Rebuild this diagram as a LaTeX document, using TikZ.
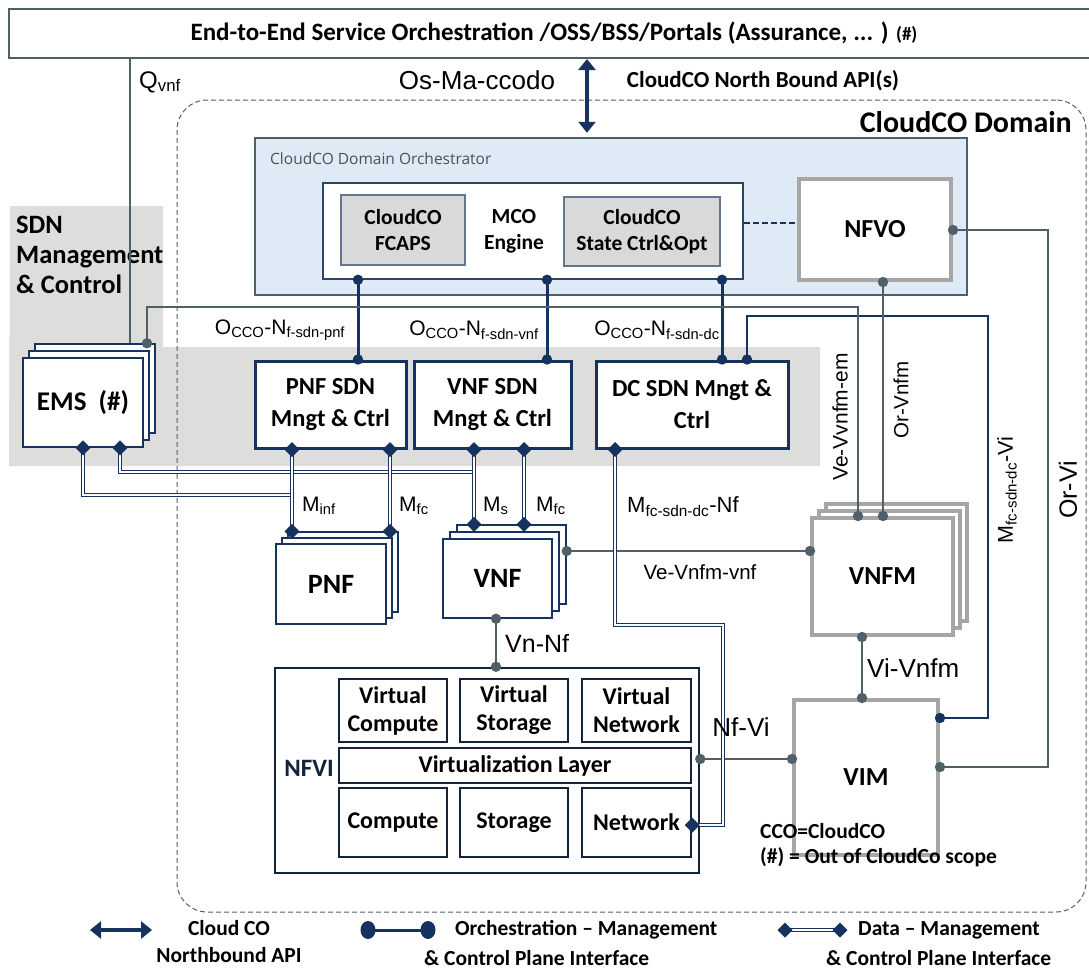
\documentclass[tikz,border=0pt]{standalone}
\usepackage{fontspec}
\setmainfont{Carlito}
\newfontfamily\arialf{Liberation Sans}
\newfontfamily\opensf{Open Sans}
\usetikzlibrary{arrows.meta}
\definecolor{slate}{RGB}{80,96,104}
\definecolor{navy}{RGB}{22,50,95}
\definecolor{boxgray}{RGB}{166,166,166}
\definecolor{bandgray}{RGB}{221,221,220}
\definecolor{orchblue}{RGB}{222,234,246}
\definecolor{fcapsgray}{RGB}{217,217,217}
\definecolor{nfvinavy}{RGB}{20,35,60}
\definecolor{labgray}{RGB}{80,80,80}
\newcommand\fs[2]{\fontsize{#1}{#2}\selectfont}
% connector end marks
\newcommand\sdot[1]{\fill[slate] (#1) circle (5.2pt);}
\newcommand\ndot[1]{\fill[navy] (#1) circle (5.2pt);}
\newcommand\dmd[1]{\fill[navy] (#1) ++(0,-7.5pt) -- ++(7.5pt,7.5pt) -- ++(-7.5pt,7.5pt) -- ++(-7.5pt,-7.5pt) -- cycle;}
\begin{document}
\begin{tikzpicture}[x=1pt,y=-1pt,
  slateline/.style={draw=slate, line width=2.8pt},
  navyline/.style={draw=navy, line width=3pt},
  thinnavy/.style={draw=navy, line width=1.5pt},
  dataline/.style={draw=navy, double=white, double distance=1.8pt, line width=1.5pt},
  apiarrow/.style={draw=navy, line width=4pt, {Triangle[length=11pt,width=17pt]}-{Triangle[length=11pt,width=17pt]}},
  sdnbox/.style={draw=navy, line width=3pt, fill=white, align=center, inner sep=0pt, font=\bfseries\fs{24.5}{32}},
  nfbox/.style={draw=navy, line width=1.5pt, fill=white, align=center, inner sep=0pt, font=\bfseries\fs{28}{32}},
  graybox/.style={draw=boxgray, line width=4pt, fill=white, align=center, inner sep=0pt, font=\bfseries\fs{26}{30}},
  mcobox/.style={draw=fcapsgray!40!navy, line width=1.5pt, fill=fcapsgray, align=center, inner sep=0pt, font=\bfseries\fs{21.5}{26}},
  nfvibox/.style={draw=nfvinavy, line width=2.5pt, fill=white, align=center, inner sep=0pt, font=\bfseries\fs{24}{28}},
  lab/.style={font=\arialf\fs{21}{24}, inner sep=0pt},
  note/.style={font=\bfseries\fs{21.5}{26}, inner sep=0pt, anchor=west}
]
\useasboundingbox (0,0) rectangle (1089,972);
\fill[white] (0,0) rectangle (1089,972);

% grey SDN management & control area
\fill[bandgray] (10,206) -- (163,206) -- (163,347) -- (820,347) -- (820,466) -- (9,466) -- cycle;
\node[font=\bfseries\fs{26.5}{30}, align=left, anchor=north west, inner sep=0pt] (sdnlab) at (16,216) {SDN\\Management\\\& Control};

% CloudCO domain boundary
\node[draw=slate, dashed, dash pattern=on 5pt off 3pt, line width=1pt, rounded corners=30pt,
      minimum width=909pt, minimum height=812pt, inner sep=0pt] (domain) at (631.5,506) {};
\node[font=\bfseries\fs{30}{34}, anchor=east, inner sep=0pt] (domlab) at (1072,122) {CloudCO Domain};

% end-to-end orchestration bar
\node[draw=slate, line width=2pt, minimum width=1100pt, minimum height=49pt, anchor=north west, inner sep=0pt] (top) at (8,8) {};
\node[font=\bfseries\fs{25}{28}, inner sep=0pt] (toplab) at (554,33) {End-to-End Service Orchestration /OSS/BSS/Portals (Assurance, ... ) {\fs{19}{22}(\#)}};

% CloudCO domain orchestrator
\node[draw=slate, line width=2.5pt, fill=orchblue, minimum width=712pt, minimum height=157pt, inner sep=0pt] (orch) at (611,216.5) {};
\node[font=\opensf\fs{15.5}{18}, text=labgray, anchor=west, inner sep=0pt] (orchlab) at (270,159) {CloudCO Domain Orchestrator};
\node[draw=navy!60!slate, line width=1.5pt, fill=white, minimum width=420pt, minimum height=96pt, inner sep=0pt] (mco) at (533,231) {};
\node[mcobox, minimum width=124pt, minimum height=70pt] (fcaps) at (403,230) {CloudCO\\FCAPS};
\node[font=\bfseries\fs{21.5}{26}, align=center, inner sep=0pt] (mcolab) at (514,231) {MCO\\Engine};
\node[mcobox, minimum width=156pt, minimum height=69pt] (state) at (642,231.5) {CloudCO\\State Ctrl\&Opt};
\node[graybox, minimum width=152pt, minimum height=101pt] (nfvo) at (875,229.5) {NFVO};
\coordinate (ydash) at (0,223);
\draw[navy, line width=2pt, dash pattern=on 6pt off 3pt] (mco.east |- ydash) -- (nfvo.west |- ydash);

% SDN controllers
\node[sdnbox, minimum width=151pt, minimum height=87pt] (pnfsdn) at (330.5,404.5) {PNF SDN\\Mngt \& Ctrl};
\node[sdnbox, minimum width=157pt, minimum height=87pt] (vnfsdn) at (492.5,404.5) {VNF SDN\\Mngt \& Ctrl};
\node[sdnbox, minimum width=192pt, minimum height=87pt] (dcsdn) at (692,404.5) {DC SDN Mngt \&\\Ctrl};

% EMS stack
\node[nfbox, minimum width=120pt, minimum height=89pt] (ems3) at (95,388.5) {};
\node[nfbox, minimum width=120pt, minimum height=89pt] (ems2) at (89,395.5) {};
\node[nfbox, minimum width=120pt, minimum height=89pt, font=\bfseries\fs{27}{30}] (ems) at (83,402.5) {EMS~~(\#)};

% PNF stack
\node[nfbox, minimum width=110pt, minimum height=80pt] (pnf3) at (343,572) {};
\node[nfbox, minimum width=110pt, minimum height=80pt] (pnf2) at (337,578) {};
\node[nfbox, minimum width=110pt, minimum height=80pt] (pnf) at (331,584) {PNF};

% VNF stack
\node[nfbox, minimum width=109pt, minimum height=79pt] (vnf3) at (511.5,564.5) {};
\node[nfbox, minimum width=109pt, minimum height=79pt] (vnf2) at (504.5,571.5) {};
\node[nfbox, minimum width=109pt, minimum height=79pt] (vnf) at (497.5,578.5) {VNF};

% VNFM stack and VIM
\node[graybox, minimum width=141pt, minimum height=117pt] (vnfm3) at (896.5,562.5) {};
\node[graybox, minimum width=141pt, minimum height=117pt] (vnfm2) at (889.5,569.5) {};
\node[graybox, minimum width=141pt, minimum height=117pt] (vnfm) at (882.5,576.5) {VNFM};
\node[graybox, minimum width=144pt, minimum height=155pt] (vim) at (866,777.5) {VIM};

% NFVI
\node[draw=nfvinavy, line width=2.5pt, fill=white, minimum width=424pt, minimum height=205pt, inner sep=0pt] (nfvi) at (487,770.5) {};
\node[font=\bfseries\fs{25}{28}, text=nfvinavy, inner sep=0pt] (nfvilab) at (309,768) {NFVI};
\node[nfvibox, minimum width=108pt, minimum height=63pt] (vc) at (393,710.5) {Virtual\\Compute};
\node[nfvibox, minimum width=108pt, minimum height=63pt] (vs) at (514,710.5) {Virtual\\Storage};
\node[nfvibox, minimum width=109pt, minimum height=63pt] (vn) at (636.5,710.5) {Virtual\\Network};
\node[nfvibox, minimum width=352pt, minimum height=35pt] (vl) at (515,765.5) {Virtualization Layer};
\node[nfvibox, minimum width=108pt, minimum height=69pt] (cp) at (393,822.5) {Compute};
\node[nfvibox, minimum width=108pt, minimum height=69pt] (st) at (514,822.5) {Storage};
\node[nfvibox, minimum width=109pt, minimum height=69pt] (nw) at (636.5,822.5) {Network};

% helper positions for connectors
\coordinate (xq) at (130,0);
\coordinate (xapi) at (587,0);
\coordinate (xo1) at (358,0);
\coordinate (xo2) at (547,0);
\coordinate (xo3) at (722,0);
\coordinate (xo4) at (747,0);
\coordinate (xem) at (147,0);
\coordinate (yem) at (0,307);
\coordinate (xvem) at (858,0);
\coordinate (xorv) at (883,0);
\coordinate (yorvi) at (0,230);
\coordinate (xorvi) at (1048,0);
\coordinate (yorvi2) at (0,767);
\coordinate (ymf) at (0,316);
\coordinate (xmf) at (988,0);
\coordinate (ymf2) at (0,718);
\coordinate (yvnf) at (0,551);
\coordinate (xvn) at (496,0);
\coordinate (xvi) at (862,0);
\coordinate (ynfvi) at (0,759);
\coordinate (xd1) at (292,0);
\coordinate (xd2) at (390,0);
\coordinate (xd3) at (474,0);
\coordinate (xd4) at (524,0);
\coordinate (xe1) at (83,0);
\coordinate (xe2) at (120,0);
\coordinate (ye1) at (0,495);
\coordinate (ye2) at (0,472);
\coordinate (xdc) at (615,0);
\coordinate (ydc) at (0,625);
\coordinate (xdc2) at (723,0);
\coordinate (ynw) at (0,825);

% northbound API
\draw[apiarrow] (top.south -| xapi) -- ([yshift=4pt]orch.north -| xapi);

% Qvnf
\draw[slateline] (top.south -| xq) -- (ems3.north -| xq);

% orchestration interfaces (MCO to SDN controllers)
\draw[navyline] (mco.south -| xo1) -- (pnfsdn.north -| xo1);
\draw[navyline] (mco.south -| xo2) -- (vnfsdn.north -| xo2);
\draw[navyline] (mco.south -| xo3) -- (dcsdn.north -| xo3);
\ndot{mco.south -| xo1}\ndot{pnfsdn.north -| xo1}
\ndot{mco.south -| xo2}\ndot{vnfsdn.north -| xo2}
\ndot{mco.south -| xo3}\ndot{dcsdn.north -| xo3}

% Mfc-sdn-dc-Vi
\draw[thinnavy] (dcsdn.north -| xo4) -- (xo4 |- ymf) -- (xmf |- ymf) -- (xmf |- ymf2) -- (vim.east |- ymf2);
\ndot{dcsdn.north -| xo4}\ndot{vim.east |- ymf2}

% Ve-Vnfm-em
\draw[slateline] (ems3.north -| xem) -- (xem |- yem) -- (xvem |- yem) -- (vnfm.north -| xvem);
\sdot{ems3.north -| xem}\sdot{vnfm.north -| xvem}

% Or-Vnfm
\draw[slateline] (nfvo.south -| xorv) -- (vnfm.north -| xorv);
\sdot{nfvo.south -| xorv}\sdot{vnfm.north -| xorv}

% Or-Vi
\draw[slateline] (nfvo.east |- yorvi) -- (xorvi |- yorvi) -- (xorvi |- yorvi2) -- (vim.east |- yorvi2);
\sdot{nfvo.east |- yorvi}\sdot{vim.east |- yorvi2}

% Ve-Vnfm-vnf
\draw[slateline] (vnf3.east |- yvnf) -- (vnfm.west |- yvnf);
\sdot{vnf3.east |- yvnf}\sdot{vnfm.west |- yvnf}

% Vn-Nf
\draw[slateline] (vnf.south -| xvn) -- (nfvi.north -| xvn);
\sdot{vnf.south -| xvn}\sdot{nfvi.north -| xvn}

% Vi-Vnfm
\draw[slateline] (vnfm.south -| xvi) -- (vim.north -| xvi);
\sdot{vnfm.south -| xvi}\sdot{vim.north -| xvi}

% Nf-Vi
\draw[slateline] (nfvi.east |- ynfvi) -- (vim.west |- ynfvi);
\sdot{nfvi.east |- ynfvi}\sdot{vim.west |- ynfvi}

% data plane management interfaces
\draw[dataline] (ems.south -| xe1) -- (xe1 |- ye1) -- (xd1 |- ye1);
\draw[dataline] (ems.south -| xe2) -- (xe2 |- ye2) -- (xd3 |- ye2);
\draw[dataline] (pnfsdn.south -| xd1) -- (pnf3.north -| xd1);
\draw[dataline] (pnfsdn.south -| xd2) -- (pnf3.north -| xd2);
\draw[dataline] (vnfsdn.south -| xd3) -- (vnf3.north -| xd3);
\draw[dataline] (vnfsdn.south -| xd4) -- (vnf3.north -| xd4);
\draw[dataline] (dcsdn.south -| xdc) -- (xdc |- ydc) -- (xdc2 |- ydc) -- (xdc2 |- ynw) -- (nw.east |- ynw);
\dmd{ems.south -| xe1}\dmd{ems.south -| xe2}
\dmd{pnfsdn.south -| xd1}\dmd{pnf3.north -| xd1}
\dmd{pnfsdn.south -| xd2}\dmd{pnf3.north -| xd2}
\dmd{vnfsdn.south -| xd3}\dmd{vnf3.north -| xd3}
\dmd{vnfsdn.south -| xd4}\dmd{vnf3.north -| xd4}
\dmd{dcsdn.south -| xdc}\dmd{nw.east |- ynw}

% interface labels
\node[lab, font=\arialf\fs{24}{26}, anchor=west] (lqvnf) at (139,82) {Q\textsubscript{vnf}};
\node[lab, font=\arialf\fs{26}{28}] (losma) at (477,80) {Os-Ma-ccodo};
\node[font=\bfseries\fs{23}{26}, inner sep=0pt] (lnb) at (763,81) {CloudCO North Bound API(s)};
\node[lab] (lo1) at (280,330) {O\textsubscript{CCO}-N\textsubscript{f-sdn-pnf}};
\node[lab] (lo2) at (474,330) {O\textsubscript{CCO}-N\textsubscript{f-sdn-vnf}};
\node[lab] (lo3) at (657,330) {O\textsubscript{CCO}-N\textsubscript{f-sdn-dc}};
\node[lab, anchor=west] (lminf) at (302,506) {M\textsubscript{inf}};
\node[lab, anchor=west] (lmfc1) at (399,506) {M\textsubscript{fc}};
\node[lab, anchor=west] (lms) at (483,506) {M\textsubscript{s}};
\node[lab, anchor=west] (lmfc2) at (536,506) {M\textsubscript{fc}};
\node[lab, font=\arialf\fs{22}{24}, anchor=west] (lmdc) at (627,507) {M\textsubscript{fc-sdn-dc}-Nf};
\node[lab, font=\arialf\fs{20.5}{24}] (lvevnf) at (700,572) {Ve-Vnfm-vnf};
\node[lab, font=\arialf\fs{25}{28}, anchor=west] (lvnnf) at (505,643) {Vn-Nf};
\node[lab, font=\arialf\fs{26}{28}, anchor=west] (lvivnfm) at (867,668) {Vi-Vnfm};
\node[lab, font=\arialf\fs{26}{28}] (lnfvi) at (741,727) {Nf-Vi};
\node[lab, font=\arialf\fs{21}{24}, rotate=90] (lveem) at (840,417) {Ve-Vvnfm-em};
\node[lab, font=\arialf\fs{20.5}{24}, rotate=90] (lorvnfm) at (901,400) {Or-Vnfm};
\node[lab, font=\arialf\fs{21.5}{24}, rotate=90] (lmfcvi) at (1007,490) {M\textsubscript{fc-sdn-dc}-Vi};
\node[lab, font=\arialf\fs{25}{28}, rotate=90] (lorvi) at (1068,490) {Or-Vi};

% notes
\node[note] (note1) at (760,831) {CCO=CloudCO};
\node[note] (note2) at (760,857) {(\#) = Out of CloudCo scope};

% legend
\coordinate (la1) at (90,930);
\coordinate (la2) at (152,930);
\draw[apiarrow] (la1) -- (la2);
\node[font=\bfseries\fs{21.5}{27}, align=center, inner sep=0pt] (lgapi) at (229,942) {Cloud CO\\Northbound API};
\coordinate (lb1) at (368,930);
\coordinate (lb2) at (428,930);
\draw[navy, line width=3pt] (lb1) -- (lb2);
\fill[navy] (lb1) ellipse (7.5pt and 9pt);
\fill[navy] (lb2) ellipse (7.5pt and 9pt);
\node[font=\bfseries\fs{21.5}{24}, anchor=west, inner sep=0pt] (lgorch1) at (455,930) {Orchestration -- Management};
\node[font=\bfseries\fs{21.5}{24}, anchor=west, inner sep=0pt] (lgorch2) at (424,958) {\& Control Plane Interface};
\coordinate (lc1) at (785,930);
\coordinate (lc2) at (840,930);
\draw[dataline] (lc1) -- (lc2);
\dmd{lc1}\dmd{lc2}
\node[font=\bfseries\fs{21.5}{24}, anchor=west, inner sep=0pt] (lgdata1) at (858,930) {Data -- Management};
\node[font=\bfseries\fs{21.5}{24}, anchor=west, inner sep=0pt] (lgdata2) at (826,958) {\& Control Plane Interface};
\end{tikzpicture}
\end{document}
